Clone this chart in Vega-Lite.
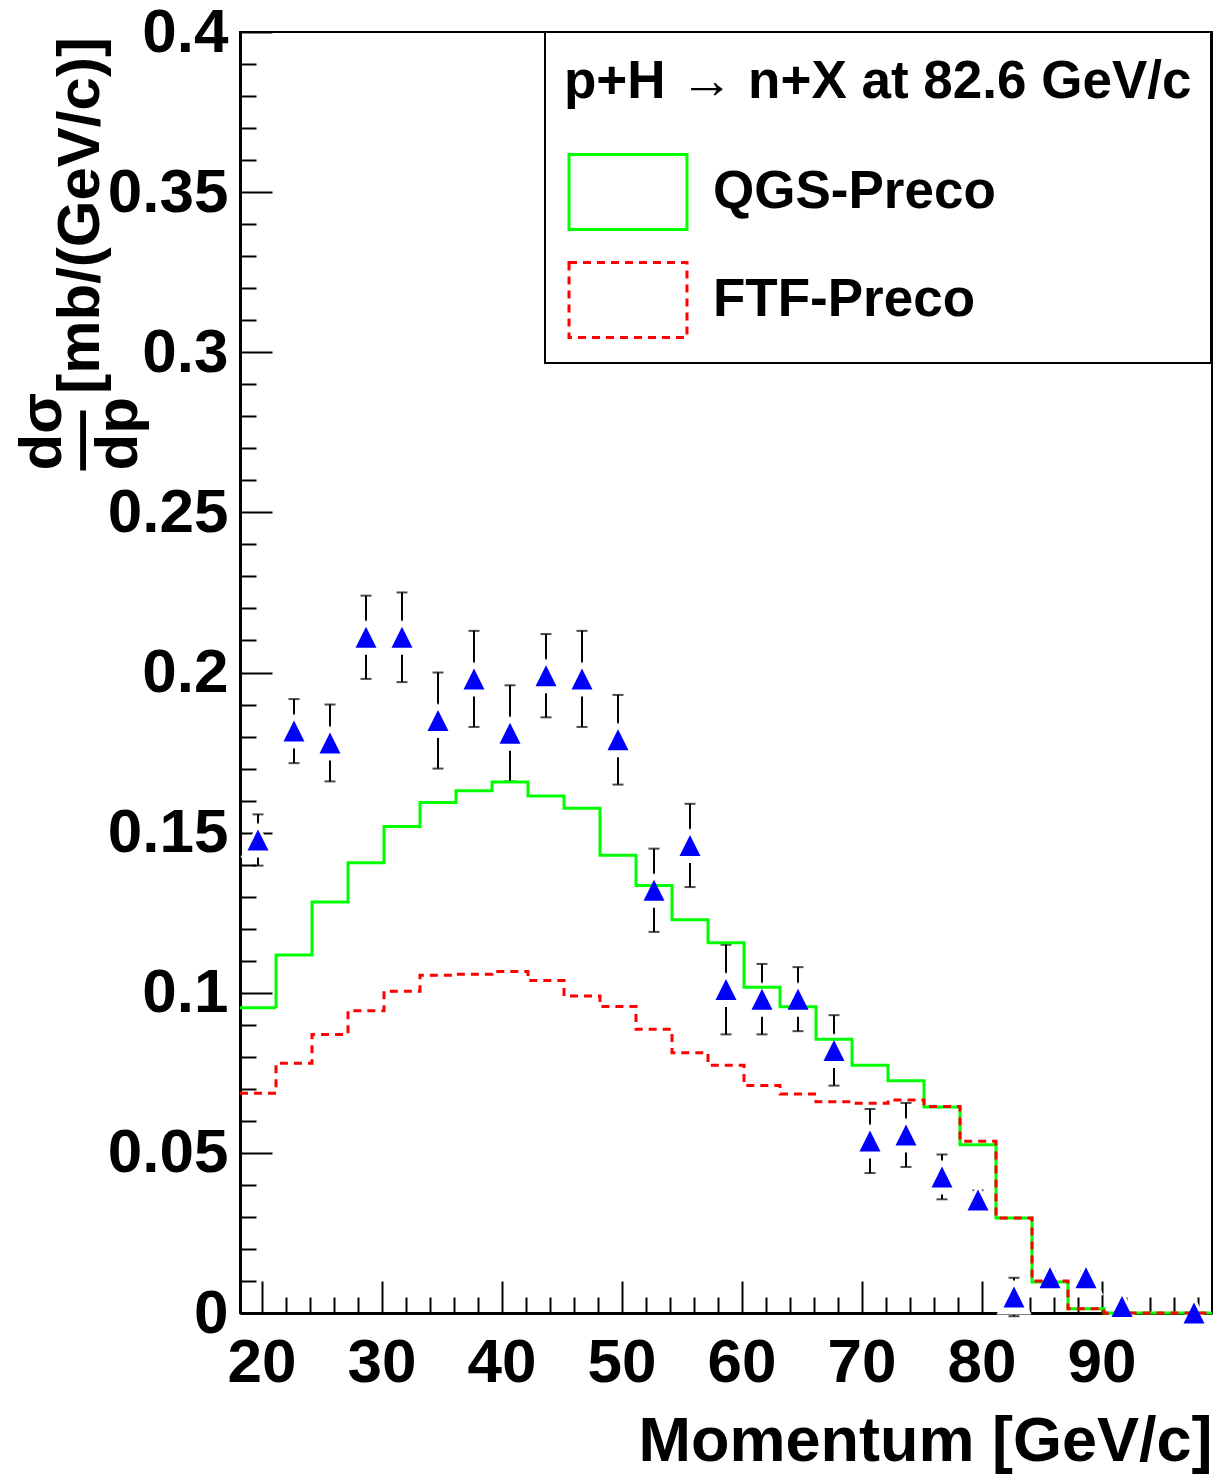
{
  "$schema": "https://vega.github.io/schema/vega-lite/v6.json",
  "width": 972,
  "height": 1281,
  "autosize": {"type": "none"},
  "padding": {"left": 240, "top": 32, "right": 6, "bottom": 161},
  "background": "white",
  "config": {
    "view": {"stroke": "black", "strokeWidth": 2},
    "font": "Liberation Sans",
    "axis": {
      "grid": false,
      "zindex": 1,
      "domainColor": "black",
      "tickColor": "black",
      "labelColor": "black",
      "titleColor": "black",
      "labelFont": "Liberation Sans",
      "titleFont": "Liberation Sans",
      "labelFontWeight": "bold",
      "titleFontWeight": "bold",
      "labelFontSize": 62,
      "tickWidth": 2,
      "domainWidth": 3
    }
  },
  "datasets": {
    "qgs": [
      {"model": "QGS-Preco", "edge": 18.2, "value": 0.0953},
      {"model": "QGS-Preco", "edge": 21.2, "value": 0.1118},
      {"model": "QGS-Preco", "edge": 24.2, "value": 0.1283},
      {"model": "QGS-Preco", "edge": 27.2, "value": 0.1406},
      {"model": "QGS-Preco", "edge": 30.2, "value": 0.1519},
      {"model": "QGS-Preco", "edge": 33.2, "value": 0.1594},
      {"model": "QGS-Preco", "edge": 36.2, "value": 0.1631},
      {"model": "QGS-Preco", "edge": 39.2, "value": 0.1658},
      {"model": "QGS-Preco", "edge": 42.2, "value": 0.1614},
      {"model": "QGS-Preco", "edge": 45.2, "value": 0.1576},
      {"model": "QGS-Preco", "edge": 48.2, "value": 0.1429},
      {"model": "QGS-Preco", "edge": 51.2, "value": 0.1335},
      {"model": "QGS-Preco", "edge": 54.2, "value": 0.1228},
      {"model": "QGS-Preco", "edge": 57.2, "value": 0.1156},
      {"model": "QGS-Preco", "edge": 60.2, "value": 0.1017},
      {"model": "QGS-Preco", "edge": 63.2, "value": 0.0956},
      {"model": "QGS-Preco", "edge": 66.2, "value": 0.0855},
      {"model": "QGS-Preco", "edge": 69.2, "value": 0.0774},
      {"model": "QGS-Preco", "edge": 72.2, "value": 0.0725},
      {"model": "QGS-Preco", "edge": 75.2, "value": 0.0643},
      {"model": "QGS-Preco", "edge": 78.2, "value": 0.0525},
      {"model": "QGS-Preco", "edge": 81.2, "value": 0.0297},
      {"model": "QGS-Preco", "edge": 84.2, "value": 0.0097},
      {"model": "QGS-Preco", "edge": 87.2, "value": 0.0013},
      {"model": "QGS-Preco", "edge": 90.2, "value": 0.0},
      {"model": "QGS-Preco", "edge": 93.2, "value": 0.0},
      {"model": "QGS-Preco", "edge": 96.2, "value": 0.0},
      {"model": "QGS-Preco", "edge": 99.2, "value": 0.0}
    ],
    "ftf": [
      {"model": "FTF-Preco", "edge": 18.2, "value": 0.0686},
      {"model": "FTF-Preco", "edge": 21.2, "value": 0.078},
      {"model": "FTF-Preco", "edge": 24.2, "value": 0.087},
      {"model": "FTF-Preco", "edge": 27.2, "value": 0.0944},
      {"model": "FTF-Preco", "edge": 30.2, "value": 0.1005},
      {"model": "FTF-Preco", "edge": 33.2, "value": 0.1055},
      {"model": "FTF-Preco", "edge": 36.2, "value": 0.1058},
      {"model": "FTF-Preco", "edge": 39.2, "value": 0.1066},
      {"model": "FTF-Preco", "edge": 42.2, "value": 0.1038},
      {"model": "FTF-Preco", "edge": 45.2, "value": 0.099},
      {"model": "FTF-Preco", "edge": 48.2, "value": 0.0957},
      {"model": "FTF-Preco", "edge": 51.2, "value": 0.0886},
      {"model": "FTF-Preco", "edge": 54.2, "value": 0.0813},
      {"model": "FTF-Preco", "edge": 57.2, "value": 0.0774},
      {"model": "FTF-Preco", "edge": 60.2, "value": 0.071},
      {"model": "FTF-Preco", "edge": 63.2, "value": 0.0684},
      {"model": "FTF-Preco", "edge": 66.2, "value": 0.066},
      {"model": "FTF-Preco", "edge": 69.2, "value": 0.0655},
      {"model": "FTF-Preco", "edge": 72.2, "value": 0.0665},
      {"model": "FTF-Preco", "edge": 75.2, "value": 0.0645},
      {"model": "FTF-Preco", "edge": 78.2, "value": 0.0536},
      {"model": "FTF-Preco", "edge": 81.2, "value": 0.0297},
      {"model": "FTF-Preco", "edge": 84.2, "value": 0.01},
      {"model": "FTF-Preco", "edge": 87.2, "value": 0.0013},
      {"model": "FTF-Preco", "edge": 90.2, "value": 0.0},
      {"model": "FTF-Preco", "edge": 93.2, "value": 0.0},
      {"model": "FTF-Preco", "edge": 96.2, "value": 0.0},
      {"model": "FTF-Preco", "edge": 99.2, "value": 0.0}
    ],
    "points": [
      {"p": 19.7, "y": 0.1477, "err": 0.008},
      {"p": 22.7, "y": 0.1817, "err": 0.010},
      {"p": 25.7, "y": 0.178, "err": 0.012},
      {"p": 28.7, "y": 0.211, "err": 0.013},
      {"p": 31.7, "y": 0.211, "err": 0.014},
      {"p": 34.7, "y": 0.185, "err": 0.015},
      {"p": 37.7, "y": 0.198, "err": 0.015},
      {"p": 40.7, "y": 0.181, "err": 0.015},
      {"p": 43.7, "y": 0.199, "err": 0.013},
      {"p": 46.7, "y": 0.198, "err": 0.015},
      {"p": 49.7, "y": 0.179, "err": 0.014},
      {"p": 52.7, "y": 0.132, "err": 0.013},
      {"p": 55.7, "y": 0.146, "err": 0.013},
      {"p": 58.7, "y": 0.101, "err": 0.014},
      {"p": 61.7, "y": 0.098, "err": 0.011},
      {"p": 64.7, "y": 0.098, "err": 0.010},
      {"p": 67.7, "y": 0.082, "err": 0.011},
      {"p": 70.7, "y": 0.0537, "err": 0.010},
      {"p": 73.7, "y": 0.0556, "err": 0.010},
      {"p": 76.7, "y": 0.0425, "err": 0.007},
      {"p": 79.7, "y": 0.0353, "err": 0.003},
      {"p": 82.7, "y": 0.005, "err": 0.006},
      {"p": 85.7, "y": 0.011, "err": 0.002},
      {"p": 88.7, "y": 0.011, "err": 0.002},
      {"p": 91.7, "y": 0.002, "err": 0.001},
      {"p": 97.7, "y": 0.0, "err": 0.0005}
    ]
  },
  "resolve": {"axis": {"x": "independent", "y": "independent"}},
  "layer": [
    {
      "data": {"name": "points"},
      "mark": {"type": "errorbar", "thickness": 2, "color": "black", "ticks": {"size": 11, "thickness": 2, "color": "black"}},
      "encoding": {
        "x": {"field": "p", "type": "quantitative", "scale": {"domain": [18.2, 99.2], "nice": false, "zero": false}, "axis": null},
        "y": {"field": "y", "type": "quantitative", "scale": {"domain": [0, 0.4], "nice": false}, "axis": null},
        "yError": {"field": "err"}
      }
    },
    {
      "data": {"name": "points"},
      "mark": {"type": "point", "shape": "M0,-1L1,1L-1,1Z", "filled": true, "color": "white", "opacity": 1, "size": 1225},
      "encoding": {
        "x": {"field": "p", "type": "quantitative", "scale": {"domain": [18.2, 99.2], "nice": false, "zero": false},
          "axis": {"orient": "bottom", "values": [20, 30, 40, 50, 60, 70, 80, 90], "tickSize": -32, "labelPadding": 51,
            "title": "Momentum [GeV/c]", "titleFontSize": 63, "titleAlign": "right", "titleAnchor": "end", "titleX": 972, "titleY": 147, "titleBaseline": "alphabetic"}},
        "y": {"field": "y", "type": "quantitative", "scale": {"domain": [0, 0.4], "nice": false},
          "axis": {"orient": "left", "values": [0, 0.05, 0.1, 0.15, 0.2, 0.25, 0.3, 0.35, 0.4], "format": "~g", "tickSize": -32, "labelPadding": 44,
            "title": ["dσ", "— [mb/(GeV/c)]", "dp"], "titleFontSize": 60, "titleAngle": 270, "titleAlign": "left", "titleBaseline": "alphabetic", "titleX": -180, "titleY": 438, "titleLineHeight": 38}}
      }
    },
    {
      "data": {"name": "qgs"},
      "mark": {"type": "line", "interpolate": "step-after", "strokeWidth": 3},
      "encoding": {
        "x": {"field": "edge", "type": "quantitative", "scale": {"domain": [18.2, 99.2], "nice": false, "zero": false}, "axis": null},
        "y": {"field": "value", "type": "quantitative", "scale": {"domain": [0, 0.4], "nice": false}, "axis": null},
        "color": {"field": "model", "type": "nominal", "scale": {"domain": ["QGS-Preco", "FTF-Preco"], "range": ["#00ff00", "#ff0000"]},
          "legend": {"orient": "none", "legendX": 305, "legendY": 0, "title": "p+H → n+X at 82.6 GeV/c", "titleFontSize": 53, "titleFontWeight": "bold", "titleColor": "black", "titleLimit": 900, "titlePadding": 49, "titleBaseline": "line-top", "titleLineHeight": 63,
            "labelFontSize": 53, "labelFontWeight": "bold", "labelColor": "black", "labelLimit": 900, "labelOffset": 46, "symbolType": "M-1.573,-1H1.573V1H-1.573Z", "symbolSize": 5625, "symbolStrokeWidth": 3, "symbolOffset": 25, "symbolFillColor": "transparent", "rowPadding": 20, "padding": 19, "strokeColor": "black", "fillColor": "white",
            "encode": {"legend": {"update": {"strokeWidth": {"value": 2}}}, "symbols": {"update": {"fill": {"value": "transparent"}, "strokeWidth": {"value": 3}}}}}},
        "strokeDash": {"field": "model", "type": "nominal", "scale": {"domain": ["QGS-Preco", "FTF-Preco"], "range": [[1, 0], [8, 6]]},
          "legend": {"orient": "none", "legendX": 305, "legendY": 0, "title": "p+H → n+X at 82.6 GeV/c", "titleFontSize": 53, "titleFontWeight": "bold", "titleColor": "black", "titleLimit": 900, "titlePadding": 49, "titleBaseline": "line-top", "titleLineHeight": 63,
            "labelFontSize": 53, "labelFontWeight": "bold", "labelColor": "black", "labelLimit": 900, "labelOffset": 46, "symbolType": "M-1.573,-1H1.573V1H-1.573Z", "symbolSize": 5625, "symbolStrokeWidth": 3, "symbolOffset": 25, "symbolFillColor": "transparent", "rowPadding": 20, "padding": 19, "strokeColor": "black", "fillColor": "white",
            "encode": {"legend": {"update": {"strokeWidth": {"value": 2}}}, "symbols": {"update": {"fill": {"value": "transparent"}, "strokeWidth": {"value": 3}}}}}}
      }
    },
    {
      "data": {"name": "ftf"},
      "mark": {"type": "line", "interpolate": "step-after", "strokeWidth": 3},
      "encoding": {
        "x": {"field": "edge", "type": "quantitative", "scale": {"domain": [18.2, 99.2], "nice": false, "zero": false}, "axis": null},
        "y": {"field": "value", "type": "quantitative", "scale": {"domain": [0, 0.4], "nice": false}, "axis": null},
        "color": {"field": "model", "type": "nominal", "scale": {"domain": ["QGS-Preco", "FTF-Preco"], "range": ["#00ff00", "#ff0000"]}},
        "strokeDash": {"field": "model", "type": "nominal", "scale": {"domain": ["QGS-Preco", "FTF-Preco"], "range": [[1, 0], [8, 6]]}}
      }
    },
    {
      "data": {"name": "points"},
      "mark": {"type": "point", "shape": "M0,-1L1,1L-1,1Z", "filled": true, "color": "#0000ff", "opacity": 1, "size": 441},
      "encoding": {
        "x": {"field": "p", "type": "quantitative", "scale": {"domain": [18.2, 99.2], "nice": false, "zero": false},
          "axis": {"orient": "bottom", "values": [22, 24, 26, 28, 32, 34, 36, 38, 42, 44, 46, 48, 52, 54, 56, 58, 62, 64, 66, 68, 72, 74, 76, 78, 82, 84, 86, 88, 92, 94, 96, 98], "tickSize": -16, "labels": false, "domain": false, "title": null}},
        "y": {"field": "y", "type": "quantitative", "scale": {"domain": [0, 0.4], "nice": false},
          "axis": {"orient": "left", "values": [0.01, 0.02, 0.03, 0.04, 0.06, 0.07, 0.08, 0.09, 0.11, 0.12, 0.13, 0.14, 0.16, 0.17, 0.18, 0.19, 0.21, 0.22, 0.23, 0.24, 0.26, 0.27, 0.28, 0.29, 0.31, 0.32, 0.33, 0.34, 0.36, 0.37, 0.38, 0.39], "tickSize": -16, "labels": false, "domain": false, "title": null}}
      }
    }
  ]
}
